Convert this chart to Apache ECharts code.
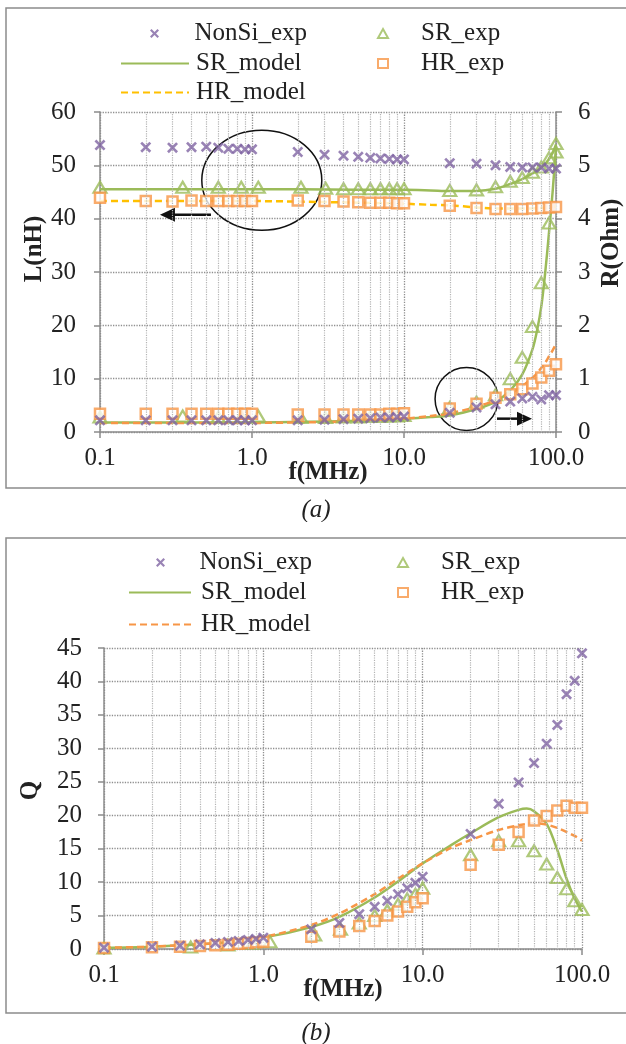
<!DOCTYPE html>
<html>
<head>
<meta charset="utf-8">
<script src="https://cdn.jsdelivr.net/npm/echarts/dist/echarts.min.js"></script>
<style>
    html, body { margin: 0; padding: 0; background: #fff; }
    #chartA { position: absolute; left: 0; top: 0; width: 626px; height: 522px; }
    #chartB { position: absolute; left: 0; top: 522px; width: 626px; height: 522px; }
</style>
</head>
<body>
<div id="chartA"></div>
<div id="chartB"></div>
<script>
// ---- data ----
// frequencies (MHz)
var freqMeas = [0.1, 0.2, 0.3, 0.4, 0.5, 0.6, 0.7, 0.8, 0.9, 1, 2, 3, 4, 5, 6, 7, 8, 9, 10, 20, 30, 40, 50, 60, 70, 80, 90, 100];
var freqSR = [0.1, 0.35, 0.6, 0.85, 1.1, 2.1, 3.05, 4, 5, 6, 7, 8, 9, 10, 20, 30, 40, 50, 60, 70, 80, 90, 100];
var freqModel = [0.1, 0.2, 0.5, 1, 2, 5, 10, 15, 20, 30, 40, 50, 60, 70, 75, 80, 85, 90, 95, 100];
var freqQModel = [0.1, 0.2, 0.5, 1, 2, 3, 5, 7, 10, 15, 20, 30, 40, 45, 50, 60, 70, 80, 90, 100];
// minor log grid lines
var minorTicks = [0.2, 0.3, 0.4, 0.5, 0.6, 0.7, 0.8, 0.9, 2, 3, 4, 5, 6, 7, 8, 9, 20, 30, 40, 50, 60, 70, 80, 90];

// (a) inductance L (nH)
var nonSiL = [53.8, 53.4, 53.3, 53.4, 53.5, 53.3, 53.1, 53.1, 53.0, 53.0, 52.5, 52.0, 51.8, 51.6, 51.4, 51.3, 51.2, 51.1, 51.1, 50.4, 50.3, 50.0, 49.7, 49.6, 49.6, 49.6, 49.4, 49.4];
var srL = [45.9, 45.9, 45.9, 45.9, 45.9, 45.9, 45.7, 45.6, 45.6, 45.6, 45.6, 45.6, 45.6, 45.6, 45.3, 45.4, 46.0, 47.0, 47.7, 48.7, 49.7, 51.4, 54.1];
var hrL = [43.9, 43.3, 43.2, 43.4, 43.3, 43.3, 43.3, 43.3, 43.3, 43.3, 43.4, 43.3, 43.2, 43.1, 43.0, 43.0, 43.0, 42.9, 42.9, 42.4, 42.0, 41.8, 41.8, 41.8, 41.9, 42.0, 42.1, 42.2];
var srModelL = [45.5, 45.5, 45.5, 45.5, 45.5, 45.4, 45.4, 45.3, 45.2, 45.2, 45.6, 46.5, 47.4, 48.5, 49.0, 49.6, 50.3, 51.2, 52.3, 53.9];
var hrModelL = [43.3, 43.3, 43.3, 43.3, 43.2, 43.0, 42.8, 42.6, 42.5, 42.1, 41.9, 41.9, 41.9, 41.9, 42.0, 42.0, 42.1, 42.1, 42.2, 42.3];

// (a) resistance R (Ohm)
var nonSiR = [0.22, 0.22, 0.22, 0.22, 0.22, 0.22, 0.22, 0.22, 0.22, 0.22, 0.22, 0.23, 0.24, 0.25, 0.26, 0.27, 0.27, 0.28, 0.29, 0.36, 0.46, 0.52, 0.57, 0.63, 0.66, 0.61, 0.69, 0.69];
var srR = [0.28, 0.3, 0.28, 0.28, 0.3, 0.27, 0.27, 0.28, 0.28, 0.29, 0.29, 0.3, 0.3, 0.31, 0.46, 0.56, 0.7, 1.0, 1.4, 1.98, 2.8, 3.92, 5.25];
var hrR = [0.34, 0.34, 0.34, 0.34, 0.34, 0.34, 0.34, 0.34, 0.34, 0.34, 0.33, 0.33, 0.33, 0.33, 0.33, 0.33, 0.34, 0.34, 0.35, 0.44, 0.53, 0.64, 0.71, 0.80, 0.91, 1.02, 1.15, 1.27];
var srModelR = [0.18, 0.18, 0.18, 0.18, 0.19, 0.21, 0.25, 0.28, 0.31, 0.43, 0.57, 0.78, 1.08, 1.55, 1.9, 2.35, 3.0, 3.75, 4.5, 5.35];
var hrModelR = [0.17, 0.17, 0.17, 0.17, 0.18, 0.2, 0.25, 0.3, 0.35, 0.47, 0.6, 0.72, 0.86, 1.02, 1.1, 1.2, 1.3, 1.42, 1.53, 1.65];

// (b) quality factor Q
var nonSiQ = [0.2, 0.35, 0.5, 0.7, 0.9, 1.05, 1.2, 1.35, 1.5, 1.7, 2.95, 3.9, 5.2, 6.3, 7.2, 8.2, 9.1, 9.9, 10.8, 17.2, 21.7, 24.9, 27.8, 30.7, 33.5, 38.1, 40.1, 44.2];
var srQ = [0.15, 0.3, 0.6, 0.85, 1.1, 2.1, 2.95, 3.9, 5.0, 5.8, 6.7, 7.5, 8.2, 9.1, 14.1, 16.2, 16.2, 14.7, 12.7, 10.7, 9.0, 7.2, 5.9];
var hrQ = [0.15, 0.25, 0.35, 0.45, 0.55, 0.65, 0.8, 0.9, 1.0, 1.1, 1.85, 2.6, 3.45, 4.2, 5.0, 5.6, 6.3, 7.0, 7.6, 12.6, 15.6, 17.5, 19.2, 19.9, 20.7, 21.4, 21.1, 21.1];
var srModelQ = [0.2, 0.35, 0.85, 1.7, 3.3, 4.8, 7.7, 10.1, 12.8, 15.5, 17.3, 19.7, 20.8, 21.0, 20.6, 18.7, 14.8, 10.5, 7.5, 5.6];
var hrModelQ = [0.2, 0.35, 0.9, 1.8, 3.6, 5.3, 8.2, 10.5, 12.8, 15.1, 16.3, 17.8, 18.5, 18.7, 18.8, 18.6, 18.1, 17.5, 16.9, 16.2];

// ---- common styles ----
var FONT = '"Liberation Serif", "Times New Roman", serif';
var FS = 25;
var AXIS_GRAY = '#8c8c8c';
var PURPLE = '#8064A2', GREEN = '#9BBB59', ORANGE = '#F79646', YELLOW = '#FFC000';
// X marker drawn as a filled path
var CROSS = 'path://M0,1.7 L1.7,0 L5,3.3 L8.3,0 L10,1.7 L6.7,5 L10,8.3 L8.3,10 L5,6.7 L1.7,10 L0,8.3 L3.3,5 Z';

function pairs(xs, ys) {
    return xs.map(function (x, i) { return [x, ys[i]]; });
}

function xAxisLog(nameGap) {
    return {
        type: 'log', logBase: 10, min: 0.1, max: 100,
        axisLine: { show: true, onZero: false, lineStyle: { color: AXIS_GRAY, width: 1.5 } },
        axisTick: { show: true, length: 6, lineStyle: { color: AXIS_GRAY, width: 1.5 } },
        axisLabel: {
            formatter: function (v) { return Number(v).toFixed(1); },
            fontFamily: FONT, fontSize: FS, color: '#222', margin: 14
        },
        splitLine: { show: true, lineStyle: { type: 'dotted', color: '#8f8f8f', width: 1.3 } },
        name: 'f(MHz)', nameLocation: 'middle', nameGap: nameGap, nameMoveOverlap: false,
        nameTextStyle: { fontFamily: FONT, fontSize: FS, fontWeight: 'bold', color: '#222' }
    };
}

function yAxisVal(opt) {
    return {
        type: 'value', min: 0, max: opt.max, interval: opt.interval, position: opt.position,
        axisLine: { show: true, onZero: false, lineStyle: { color: AXIS_GRAY, width: 1.5 } },
        axisTick: { show: true, length: 6, lineStyle: { color: AXIS_GRAY, width: 1.5 } },
        axisLabel: { fontFamily: FONT, fontSize: FS, color: '#222', margin: opt.margin },
        splitLine: { show: opt.split, lineStyle: { type: 'dotted', color: '#8f8f8f', width: 1.3 } },
        name: opt.name, nameLocation: 'middle', nameGap: opt.nameGap, nameRotate: 90, nameMoveOverlap: false,
        nameTextStyle: {
            fontFamily: FONT, fontSize: FS, fontWeight: 'bold', color: '#222',
            padding: opt.namePad
        }
    };
}

// legend entry for a marker: centred on cx, text starting at tx
function legendSym(name, cx, cy, tx) {
    return {
        data: [name], left: cx - 5, top: cy - 11, padding: 0,
        itemWidth: 10, itemHeight: 9, selectedMode: false,
        textStyle: { fontFamily: FONT, fontSize: FS, color: '#222', lineHeight: 24, padding: [0, 0, 0, tx - cx - 10] }
    };
}
// legend entry for a line: from x0 to x1, text starting at tx
function legendLine(name, x0, x1, cy, tx) {
    return {
        data: [name], left: x0, top: cy - 11, padding: 0,
        itemWidth: x1 - x0, itemHeight: 2, selectedMode: false,
        itemStyle: { opacity: 0 },
        textStyle: { fontFamily: FONT, fontSize: FS, color: '#222', lineHeight: 24, padding: [0, 0, 0, tx - x1 - 5] }
    };
}

// scatter / line series builders
function crossSeries(name, data, yIdx) {
    return { name: name, type: 'scatter', yAxisIndex: yIdx || 0, data: data, symbol: CROSS, symbolSize: 11, z: 5,
        itemStyle: { color: PURPLE } };
}
function triSeries(name, data, yIdx) {
    return { name: name, type: 'scatter', yAxisIndex: yIdx || 0, data: data, symbol: 'triangle', symbolSize: [13, 11], z: 3,
        itemStyle: { color: 'rgba(255,255,255,0)', borderColor: GREEN, borderWidth: 2.2 } };
}
function squareSeries(name, data, yIdx) {
    return { name: name, type: 'scatter', yAxisIndex: yIdx || 0, data: data, symbol: 'rect', symbolSize: 10, z: 4,
        itemStyle: { color: '#fff', borderColor: ORANGE, borderWidth: 2.5 } };
}
function lineSeries(name, data, color, dashed, yIdx) {
    return { name: name, type: 'line', yAxisIndex: yIdx || 0, data: data, symbol: 'none', smooth: 0.3, z: 2,
        itemStyle: { color: color },
        lineStyle: { color: color, width: 2.5, type: dashed ? [7, 4] : 'solid' } };
}
function minorGrid() {
    return {
        name: 'minor', type: 'line', data: [], silent: true,
        markLine: {
            silent: true, symbol: 'none', label: { show: false },
            lineStyle: { type: 'dotted', color: '#b4b4b4', width: 1.2 },
            data: minorTicks.map(function (v) { return { xAxis: v }; })
        }
    };
}
function arrow(tip, tail, dir) {
    // dir: -1 points left, 1 points right
    return [
        { type: 'line', shape: { x1: tail[0], y1: tail[1], x2: tip[0] - dir * 12, y2: tip[1] },
          style: { stroke: '#111', lineWidth: 2.5 } },
        { type: 'polygon', shape: { points: [[tip[0], tip[1]], [tip[0] - dir * 15, tip[1] - 7], [tip[0] - dir * 15, tip[1] + 7]] },
          style: { fill: '#111' } }
    ];
}

// ---- (a) L and R versus frequency ----
(function () {
    var myChart = echarts.init(document.getElementById('chartA'));
    var option = {
        animation: false,
        grid: { left: 100, width: 456, top: 112, height: 320, containLabel: false, outerBoundsMode: 'none' },
        legend: [
            legendSym('NonSi_exp', 155, 32, 195),
            legendSym('SR_exp', 382, 32, 420),
            legendLine('SR_model', 120, 188, 62, 195),
            legendSym('HR_exp', 382, 62, 420),
            legendLine('HR_model', 120, 188, 91, 195)
        ],
        xAxis: xAxisLog(28),
        yAxis: [
            yAxisVal({ max: 60, interval: 10, position: 'left', split: true, margin: 24, name: 'L(nH)', nameGap: 53, namePad: [0, 0, 0, 46] }),
            yAxisVal({ max: 6, interval: 1, position: 'right', split: false, margin: 22, name: 'R(Ohm)', nameGap: 43, namePad: [0, 0, 0, 58] })
        ],
        series: [
            minorGrid(),
            lineSeries('SR_model', pairs(freqModel, srModelL), GREEN, false, 0),
            lineSeries('HR_model', pairs(freqModel, hrModelL), YELLOW, true, 0),
            lineSeries('SR_model', pairs(freqModel, srModelR), GREEN, false, 1),
            lineSeries('HR_model', pairs(freqModel, hrModelR), ORANGE, true, 1),
            crossSeries('NonSi_exp', pairs(freqMeas, nonSiL), 0),
            crossSeries('NonSi_exp', pairs(freqMeas, nonSiR), 1),
            triSeries('SR_exp', pairs(freqSR, srL), 0),
            triSeries('SR_exp', pairs(freqSR, srR), 1),
            squareSeries('HR_exp', pairs(freqMeas, hrL), 0),
            squareSeries('HR_exp', pairs(freqMeas, hrR), 1)
        ]
    };
    myChart.setOption(option);

    // annotations placed through the chart's own axes
    function px(f, l) { return myChart.convertToPixel({ xAxisIndex: 0, yAxisIndex: 0 }, [f, l]); }
    var bigC = px(1.16, 47.2);
    var smallC = px(25.8, 6.2);
    var graphics = [
        { type: 'rect', shape: { x: 6, y: 8, width: 640, height: 480 },
          style: { fill: 'none', stroke: '#8c8c8c', lineWidth: 1.5 } },
        { type: 'ellipse', shape: { cx: bigC[0], cy: bigC[1], rx: 60, ry: 50 },
          style: { fill: 'none', stroke: '#111', lineWidth: 1.5 } },
        { type: 'ellipse', shape: { cx: smallC[0], cy: smallC[1], rx: 31.5, ry: 31.5 },
          style: { fill: 'none', stroke: '#111', lineWidth: 1.5 } },
        { type: 'text', style: { text: '(a)', x: 316, y: 510, textAlign: 'center', textVerticalAlign: 'middle',
          font: 'italic ' + FS + 'px ' + FONT, fill: '#222' } }
    ];
    graphics = graphics.concat(arrow(px(0.248, 40.75), px(0.537, 40.75), -1));
    graphics = graphics.concat(arrow(px(69.5, 2.5), px(40.9, 2.5), 1));
    myChart.setOption({ graphic: graphics });
})();

// ---- (b) Q versus frequency ----
(function () {
    var myChart = echarts.init(document.getElementById('chartB'));
    var option = {
        animation: false,
        grid: { left: 104, width: 478, top: 126, height: 301, containLabel: false, outerBoundsMode: 'none' },
        legend: [
            legendSym('NonSi_exp', 161, 39, 200),
            legendSym('SR_exp', 402, 39, 440),
            legendLine('SR_model', 128, 190, 69, 200),
            legendSym('HR_exp', 402, 69, 440),
            legendLine('HR_model', 128, 190, 101, 200)
        ],
        xAxis: xAxisLog(28),
        yAxis: yAxisVal({ max: 45, interval: 5, position: 'left', split: true, margin: 22, name: 'Q', nameGap: 61, namePad: [0, 0, 0, 16] }),
        series: [
            minorGrid(),
            lineSeries('SR_model', pairs(freqQModel, srModelQ), GREEN, false),
            lineSeries('HR_model', pairs(freqQModel, hrModelQ), ORANGE, true),
            crossSeries('NonSi_exp', pairs(freqMeas, nonSiQ)),
            triSeries('SR_exp', pairs(freqSR, srQ)),
            squareSeries('HR_exp', pairs(freqMeas, hrQ))
        ],
        graphic: [
            { type: 'rect', shape: { x: 6, y: 16, width: 640, height: 475 },
              style: { fill: 'none', stroke: '#8c8c8c', lineWidth: 1.5 } },
            { type: 'text', style: { text: '(b)', x: 316, y: 511, textAlign: 'center', textVerticalAlign: 'middle',
              font: 'italic ' + FS + 'px ' + FONT, fill: '#222' } }
        ]
    };
    myChart.setOption(option);
})();
</script>
</body>
</html>
